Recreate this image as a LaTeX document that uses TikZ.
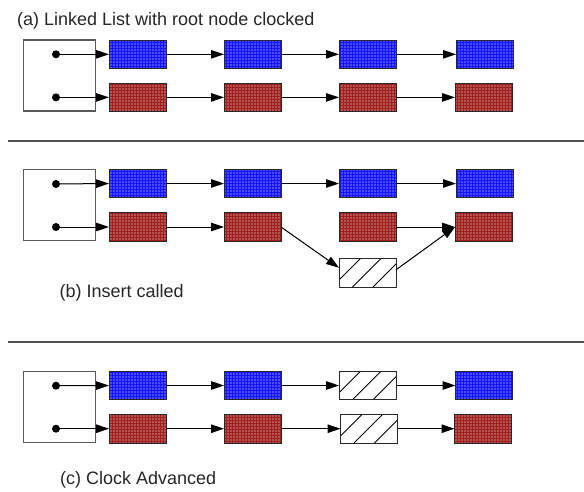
\documentclass[tikz,border=0pt]{standalone}
\usepackage{fontspec}
\setmainfont{Liberation Sans}
\usetikzlibrary{arrows.meta,patterns.meta,calc}
\definecolor{bluefill}{RGB}{20,20,255}
\definecolor{redfill}{RGB}{160,32,32}
\definecolor{edgecol}{RGB}{40,40,40}
\definecolor{sepcol}{RGB}{80,80,80}
\definecolor{rootcol}{RGB}{90,90,90}
\tikzset{
  cell/.style={draw=edgecol, line width=0.9pt, minimum width=57pt, minimum height=28.5pt, inner sep=0pt, outer sep=0pt},
  bluecell/.style={cell, preaction={fill=bluefill}, pattern={Dots[distance=3pt,radius=0.6pt]}, pattern color=white},
  redcell/.style={cell, preaction={fill=redfill}, pattern={Dots[distance=3pt,radius=0.6pt]}, pattern color=white},
  hatchcell/.style={cell, fill=white, path picture={
      \draw[line width=0.9pt, black] foreach \o in {-7,13.5,34} {($(path picture bounding box.south west)+(\o,0)$) -- ++(40,-40)};}},
  rootbox/.style={draw=rootcol, line width=1.4pt, minimum width=72pt, minimum height=71pt, inner sep=0pt, outer sep=0pt},
  ptr/.style={-{Triangle[length=13pt,width=8.5pt]}, line width=1pt, draw=black, fill=black},
  pdot/.style={circle, fill=black, minimum size=8pt, inner sep=0pt},
  sepline/.style={draw=sepcol, line width=1.4pt},
  caption/.style={anchor=base west, inner sep=0pt, font=\fontsize{18}{21}\selectfont, text=black!85}
}
\begin{document}
\begin{tikzpicture}[x=1pt,y=-1pt]
\useasboundingbox (0,0) rectangle (584,491);

% ---------- (a) ----------
\node[caption] (ta) at (17,25) {(a) Linked List with root node clocked};
\node[rootbox] (ra) at (59.5,75.5) {};
\node[pdot] (da1) at (56,54.3) {};
\node[pdot] (da2) at (56,97.4) {};
\node[bluecell] (ab1) at (137.5,54.3) {};
\node[bluecell] (ab2) at (252.5,54.3) {};
\node[bluecell] (ab3) at (367.5,54.3) {};
\node[bluecell] (ab4) at (484.5,54.3) {};
\node[redcell] (ar1) at (137.5,97.4) {};
\node[redcell] (ar2) at (252.5,97.4) {};
\node[redcell] (ar3) at (367.5,97.4) {};
\node[redcell] (ar4) at (483.5,97.4) {};
\draw[ptr] (da1.center) -- (ab1.west);
\draw[ptr] (da2.center) -- (ar1.west);
\draw[ptr] (ab1.east) -- (ab2.west);
\draw[ptr] (ab2.east) -- (ab3.west);
\draw[ptr] (ab3.east) -- (ab4.west);
\draw[ptr] (ar1.east) -- (ar2.west);
\draw[ptr] (ar2.east) -- (ar3.west);
\draw[ptr] (ar3.east) -- (ar4.west);

\coordinate (s1a) at (8,141);
\coordinate (s1b) at (584,141);
\draw[sepline] (s1a) -- (s1b);

% ---------- (b) ----------
\node[rootbox] (rb) at (59.5,205) {};
\node[pdot] (db1) at (56,184) {};
\node[pdot] (db2) at (56,227) {};
\node[bluecell] (bb1) at (137.5,183.5) {};
\node[bluecell] (bb2) at (252.5,183.5) {};
\node[bluecell] (bb3) at (367.5,183.5) {};
\node[bluecell] (bb4) at (484.5,183.5) {};
\node[redcell] (br1) at (137.5,227) {};
\node[redcell] (br2) at (252.5,227) {};
\node[redcell] (br3) at (367.5,227) {};
\node[redcell] (br4) at (483.5,227) {};
\node[hatchcell] (bh) at (367.5,272.8) {};
\draw[ptr] (db1.center) -- (bb1.west);
\draw[ptr] (db2.center) -- (br1.west);
\draw[ptr] (bb1.east) -- (bb2.west);
\draw[ptr] (bb2.east) -- (bb3.west);
\draw[ptr] (bb3.east) -- (bb4.west);
\draw[ptr] (br1.east) -- (br2.west);
\draw[ptr] (br3.east) -- (br4.west);
\draw[ptr] (br2.east) -- (bh.170);
\draw[ptr] (bh.6) -- (br4.west);
\node[caption] (tb) at (59.5,297) {(b) Insert called};

\coordinate (s2a) at (8,342);
\coordinate (s2b) at (584,342);
\draw[sepline] (s2a) -- (s2b);

% ---------- (c) ----------
\node[rootbox] (rc) at (59.5,407) {};
\node[pdot] (dc1) at (56,385.7) {};
\node[pdot] (dc2) at (56,428.7) {};
\node[bluecell] (cb1) at (137.5,385.5) {};
\node[bluecell] (cb2) at (252.5,385.5) {};
\node[hatchcell] (cb3) at (367.5,385.5) {};
\node[bluecell] (cb4) at (484,385.5) {};
\node[redcell] (cr1) at (137.5,428.7) {};
\node[redcell] (cr2) at (252.5,428.7) {};
\node[hatchcell] (cr3) at (369,428.7) {};
\node[redcell] (cr4) at (483,428.7) {};
\draw[ptr] (dc1.center) -- (cb1.west);
\draw[ptr] (dc2.center) -- (cr1.west);
\draw[ptr] (cb1.east) -- (cb2.west);
\draw[ptr] (cb2.east) -- (cb3.west);
\draw[ptr] (cb3.east) -- (cb4.west);
\draw[ptr] (cr1.east) -- (cr2.west);
\draw[ptr] (cr2.east) -- (cr3.west);
\draw[ptr] (cr3.east) -- (cr4.west);
\node[caption] (tc) at (60,484) {(c) Clock Advanced};
\end{tikzpicture}
\end{document}
